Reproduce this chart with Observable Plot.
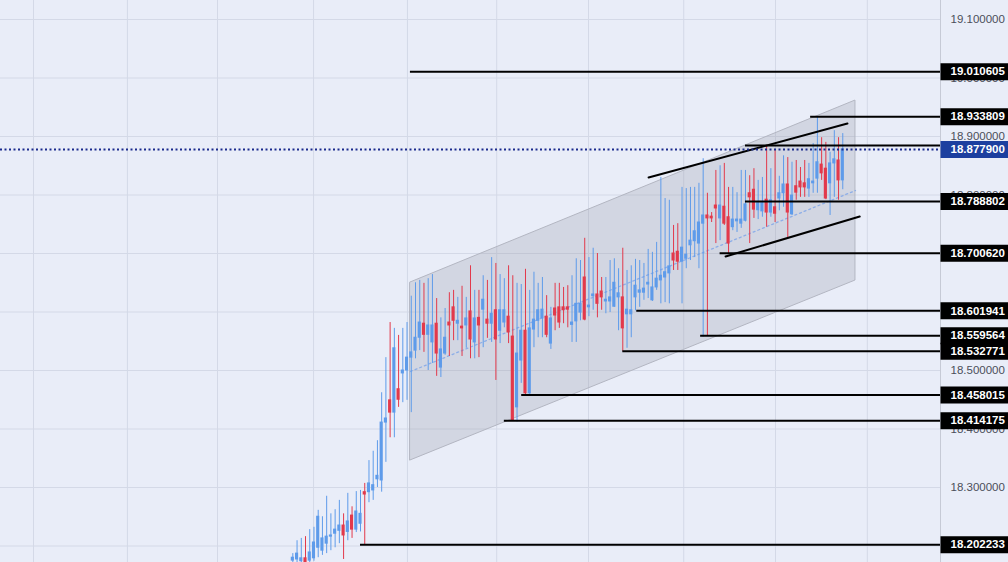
<!DOCTYPE html>
<html><head><meta charset="utf-8">
<script src="https://cdn.jsdelivr.net/npm/d3@7"></script>
<script src="https://cdn.jsdelivr.net/npm/@observablehq/plot@0.6"></script>
<style>
html,body{margin:0;padding:0;background:#e9edf8;overflow:hidden}
#chart svg{display:block}
</style></head><body><div id="chart"></div>
<script>
// ---- candle data (one candle per period, oldest first) ----
const opens = [18.175,18.177,18.174,18.179,18.175,18.179,18.197,18.192,18.204,18.216,18.221,18.226,18.235,18.224,18.252,18.228,18.238,18.292,18.292,18.295,18.314,18.312,18.411,18.449,18.428,18.468,18.495,18.500,18.522,18.534,18.556,18.580,18.561,18.548,18.580,18.505,18.529,18.582,18.608,18.580,18.575,18.577,18.601,18.548,18.590,18.604,18.587,18.580,18.603,18.568,18.582,18.592,18.558,18.437,18.517,18.568,18.461,18.570,18.585,18.589,18.592,18.546,18.606,18.608,18.608,18.608,18.578,18.584,18.599,18.659,18.608,18.627,18.630,18.635,18.618,18.618,18.609,18.625,18.625,18.596,18.596,18.625,18.633,18.633,18.647,18.620,18.642,18.654,18.659,18.666,18.700,18.703,18.686,18.691,18.714,18.721,18.717,18.751,18.765,18.763,18.782,18.760,18.780,18.762,18.745,18.755,18.751,18.756,18.803,18.809,18.774,18.772,18.792,18.770,18.779,18.794,18.803,18.818,18.767,18.815,18.823,18.820,18.811,18.820,18.828,18.852,18.845,18.820,18.854,18.859,18.825];
const highs = [18.187,18.209,18.213,18.216,18.228,18.232,18.261,18.250,18.285,18.255,18.262,18.278,18.255,18.290,18.267,18.293,18.295,18.307,18.346,18.362,18.380,18.462,18.522,18.582,18.572,18.560,18.572,18.582,18.627,18.650,18.654,18.649,18.657,18.664,18.623,18.590,18.606,18.633,18.637,18.625,18.644,18.625,18.679,18.637,18.637,18.662,18.654,18.693,18.683,18.664,18.657,18.679,18.662,18.649,18.647,18.673,18.637,18.668,18.649,18.659,18.628,18.608,18.649,18.649,18.642,18.645,18.662,18.691,18.688,18.726,18.693,18.709,18.700,18.659,18.659,18.688,18.691,18.674,18.709,18.671,18.679,18.690,18.688,18.683,18.707,18.702,18.719,18.830,18.794,18.791,18.748,18.751,18.813,18.811,18.813,18.813,18.820,18.862,18.803,18.770,18.842,18.850,18.854,18.813,18.813,18.804,18.842,18.842,18.833,18.845,18.825,18.830,18.885,18.845,18.876,18.832,18.867,18.864,18.856,18.859,18.847,18.859,18.854,18.888,18.9338,18.898,18.890,18.873,18.910,18.898,18.905];
const lows = [18.165,18.165,18.163,18.161,18.165,18.174,18.180,18.184,18.187,18.192,18.197,18.204,18.177,18.209,18.213,18.223,18.224,18.2022,18.274,18.278,18.300,18.292,18.343,18.385,18.385,18.437,18.445,18.449,18.428,18.520,18.534,18.531,18.500,18.512,18.490,18.488,18.526,18.524,18.551,18.551,18.524,18.538,18.520,18.520,18.522,18.539,18.555,18.548,18.483,18.546,18.573,18.546,18.4142,18.412,18.478,18.459,18.458,18.539,18.556,18.556,18.556,18.536,18.568,18.572,18.580,18.573,18.548,18.548,18.585,18.585,18.592,18.603,18.590,18.603,18.597,18.599,18.608,18.568,18.5328,18.538,18.556,18.602,18.608,18.620,18.623,18.618,18.637,18.614,18.616,18.614,18.671,18.671,18.614,18.674,18.688,18.693,18.674,18.557,18.5596,18.753,18.717,18.722,18.748,18.6995,18.739,18.736,18.743,18.754,18.717,18.760,18.758,18.762,18.745,18.762,18.753,18.773,18.779,18.727,18.765,18.791,18.796,18.796,18.796,18.803,18.803,18.825,18.792,18.765,18.796,18.791,18.809];
const closes = [18.180,18.187,18.179,18.172,18.189,18.206,18.250,18.213,18.216,18.218,18.228,18.235,18.218,18.242,18.228,18.259,18.255,18.288,18.307,18.304,18.320,18.411,18.418,18.428,18.538,18.450,18.500,18.522,18.531,18.556,18.582,18.561,18.577,18.577,18.529,18.536,18.556,18.577,18.585,18.585,18.572,18.589,18.553,18.589,18.577,18.621,18.580,18.597,18.553,18.603,18.603,18.565,18.415,18.529,18.568,18.461,18.572,18.587,18.603,18.604,18.561,18.589,18.594,18.582,18.603,18.604,18.582,18.614,18.614,18.587,18.611,18.630,18.614,18.625,18.621,18.625,18.650,18.632,18.572,18.604,18.603,18.645,18.637,18.640,18.650,18.642,18.657,18.662,18.668,18.678,18.688,18.686,18.710,18.698,18.722,18.738,18.753,18.765,18.760,18.760,18.777,18.782,18.751,18.717,18.758,18.758,18.758,18.784,18.796,18.775,18.786,18.786,18.770,18.791,18.768,18.803,18.818,18.770,18.799,18.804,18.813,18.813,18.827,18.823,18.856,18.837,18.794,18.854,18.861,18.825,18.8779];

// ---- price axis ----
const priceTicks = [18.2, 18.3, 18.4, 18.5, 18.6, 18.7, 18.8, 18.9, 19.0, 19.1];
const timeGrid = [-61.3, -39.1, -17.8, 4.9, 27.1, 48.2, 69.9, 92.4, 114.1, 135.8];

// ---- drawn horizontal levels (price, first candle it starts at, has label) ----
const levelPrices = [19.010605, 18.933809, 18.8846, 18.788802, 18.700620, 18.601941, 18.559564, 18.532771, 18.458015, 18.414175, 18.202233];
const levelStarts = [27.8, 122.4, 107, 107, 101, 81.3, 96.4, 78, 54.1, 50, 16];
const levelLabeled = [true, true, false, true, true, true, true, true, true, true, true];
const lastPrice = 18.8779;

// ---- regression channel ----
const channelX = [27.8, 133];
const channelLow = [18.3462, 18.6538];
const channelHigh = [18.6504, 18.9615];

// ---- trend lines ----
const upperTrendX = [84.1, 131.1], upperTrendY = [18.8299, 18.9222];
const lowerTrendX = [102.3, 134.0], lowerTrendY = [18.6949, 18.7632];

const xDomain = [-69.1, 153.1];
const yDomain = [18.1718, 19.1325];

const UP = "#5e9bea", DOWN = "#e2394b";
const candles = opens.map((o, i) => ({i, o, h: highs[i], l: lows[i], c: closes[i], up: closes[i] >= o}));
const channel = channelX.map((x, k) => ({x, lo: channelLow[k], hi: channelHigh[k]}));
const levels = levelPrices.map((v, k) => ({v, start: levelStarts[k], labeled: levelLabeled[k]}));
const labeled = levels.filter(d => d.labeled);
const upper = upperTrendX.map((x, k) => ({x, y: upperTrendY[k]}));
const lower = lowerTrendX.map((x, k) => ({x, y: lowerTrendY[k]}));

const boxSymbol = {draw(ctx) { ctx.moveTo(0, -8.5); ctx.lineTo(68, -8.5); ctx.lineTo(68, 8.5); ctx.lineTo(0, 8.5); ctx.closePath(); }};

const chart = Plot.plot({
  width: 1008, height: 562,
  marginTop: 0, marginBottom: 0, marginLeft: 0, marginRight: 68,
  style: {background: "#e9edf8", fontFamily: "Liberation Sans, Arial, sans-serif", overflow: "visible"},
  x: {type: "linear", domain: xDomain, axis: null},
  y: {type: "linear", domain: yDomain},
  marks: [
    Plot.gridY(priceTicks, {stroke: "#d4d9e7", strokeOpacity: 1}),
    Plot.gridX(timeGrid, {stroke: "#d4d9e7", strokeOpacity: 1}),
    Plot.areaY(channel, {x: "x", y1: "lo", y2: "hi", fill: "#8e929f", fillOpacity: 0.25, stroke: "#b3b6c2", strokeWidth: 1}),
    Plot.line(channel, {x: "x", y: d => (d.lo + d.hi) / 2, stroke: "#8daee8", strokeWidth: 1.3, strokeDasharray: "2 3"}),
    Plot.ruleX(candles, {x: "i", y1: "l", y2: "h", stroke: d => d.up ? UP : DOWN, strokeWidth: 1}),
    Plot.rect(candles, {x1: d => d.i - 0.37, x2: d => d.i + 0.37, y1: "o", y2: "c", fill: d => d.up ? UP : DOWN, insetTop: -0.5, insetBottom: -0.5}),
    Plot.ruleY(levels, {y: "v", x1: "start", x2: () => xDomain[1], stroke: "#000", strokeWidth: 2}),
    Plot.line(upper, {x: "x", y: "y", stroke: "#000", strokeWidth: 2}),
    Plot.line(lower, {x: "x", y: "y", stroke: "#000", strokeWidth: 2}),
    Plot.ruleY([lastPrice], {stroke: "#1b2a8c", strokeWidth: 2, strokeDasharray: "2 2.5"}),
    Plot.ruleX([xDomain[1]], {stroke: "#c6cad6", strokeWidth: 1}),
    Plot.axisY(priceTicks, {anchor: "right", tickSize: 0, tickPadding: 10, tickFormat: d => d.toFixed(6), fill: "#4b4f5a", fontSize: 11.5, label: null}),
    Plot.dot(labeled, {y: "v", frameAnchor: "right", symbol: boxSymbol, r: 5, fill: "#000"}),
    Plot.text(labeled, {y: "v", text: d => d.v.toFixed(6), frameAnchor: "right", textAnchor: "start", dx: 10, fill: "#fff", fontSize: 11.5, fontWeight: "bold"}),
    Plot.dot([lastPrice], {y: d => d, frameAnchor: "right", symbol: boxSymbol, r: 5, fill: "#1c3f9f"}),
    Plot.text([lastPrice], {y: d => d, text: d => d.toFixed(6), frameAnchor: "right", textAnchor: "start", dx: 10, fill: "#fff", fontSize: 11.5, fontWeight: "bold"})
  ]
});
document.getElementById("chart").append(chart);
</script></body></html>
